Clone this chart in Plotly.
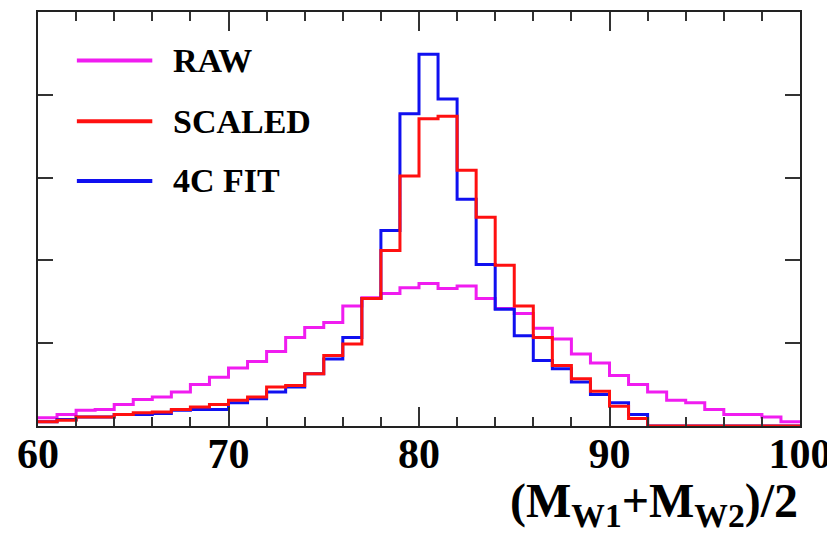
import plotly.graph_objects as go

# Bin left edges: 60..99 (1 unit bins), upper edge 100
bin_edges = list(range(60, 101))

raw = [10, 14, 19, 20, 26, 32, 35, 41, 50, 59,
       70, 78, 90, 107, 119, 125, 145, 155, 160, 167,
       172, 166, 169, 154, 142, 136, 118, 105, 87, 76,
       61, 50, 41, 31, 28, 20, 14, 14, 11, 5]

scaled = [5, 7, 11, 11, 14, 16, 17, 20, 23, 26,
          31, 35, 47, 49, 63, 85, 99, 154, 212, 302,
          371, 374, 309, 252, 194, 145, 107, 73, 57, 42,
          24, 9, 0, 0, 0, 0, 0, 0, 0, 0]

fit4c = [5, 8, 11, 11, 14, 14, 15, 19, 20, 20,
         28, 33, 41, 47, 63, 81, 107, 154, 236, 377,
         449, 395, 274, 195, 141, 109, 79, 69, 53, 38,
         28, 14, 0, 0, 0, 0, 0, 0, 0, 0]

series_names = ["RAW", "SCALED", "4C FIT"]
series_colors = ["#f01cf0", "#ff1010", "#1010f0"]

x_ticks = [60, 70, 80, 90, 100]
x_ticklabels = ["60", "70", "80", "90", "100"]

fig = go.Figure()

def step_trace(vals, color):
    xs = bin_edges[:]
    ys = list(vals) + [vals[-1]]
    return go.Scatter(x=xs, y=ys, mode="lines", line=dict(color=color, width=3, shape="hv"),
                      showlegend=False, hoverinfo="skip")

fig.add_trace(step_trace(raw, series_colors[0]))
fig.add_trace(step_trace(fit4c, series_colors[2]))
fig.add_trace(step_trace(scaled, series_colors[1]))

serif = "Liberation Serif, Times New Roman, serif"

# Legend drawn manually (long line samples as in the reference)
legend_y = [0.883, 0.736, 0.592]
for name, color, ly in zip(series_names, series_colors, legend_y):
    fig.add_shape(type="line", xref="paper", yref="paper",
                  x0=0.051, x1=0.150, y0=ly, y1=ly,
                  line=dict(color=color, width=4))
    fig.add_annotation(xref="paper", yref="paper", x=0.175, y=ly,
                       xanchor="left", yanchor="middle", showarrow=False,
                       text=name, font=dict(family=serif, size=34, color="black", weight="bold"))

# X axis title (right aligned, below tick labels)
fig.add_annotation(xref="paper", yref="paper", x=1.0, y=-0.112,
                   xanchor="right", yanchor="top", showarrow=False,
                   text="(M<sub>W1</sub>+M<sub>W2</sub>)/2",
                   font=dict(family=serif, size=48, color="black", weight="bold"))

# page body has an 8px margin: plot area targeted at page x 38-800, y 10-426
fig.update_layout(
    width=827, height=529,
    margin=dict(l=30, r=35, t=2, b=111),
    paper_bgcolor="white", plot_bgcolor="white",
)

fig.update_xaxes(
    range=[60, 100], showgrid=False, zeroline=False,
    showline=True, linecolor="#222", linewidth=2, mirror="allticks",
    ticks="inside", ticklen=19, tickwidth=2, tickcolor="#333",
    tickvals=x_ticks, ticktext=x_ticklabels, ticklabelstandoff=-10,
    tickfont=dict(family=serif, size=42, color="black", weight="bold"),
    minor=dict(dtick=2, tick0=60, ticks="inside", ticklen=9, tickwidth=2, tickcolor="#333", showgrid=False),
)
fig.update_yaxes(
    range=[0, 500], showgrid=False, zeroline=False,
    showline=True, linecolor="#222", linewidth=2, mirror="allticks",
    ticks="inside", ticklen=15, tickwidth=2, tickcolor="#333",
    dtick=100, showticklabels=False,
)

fig.write_html("out.html", config={"displayModeBar": False})
